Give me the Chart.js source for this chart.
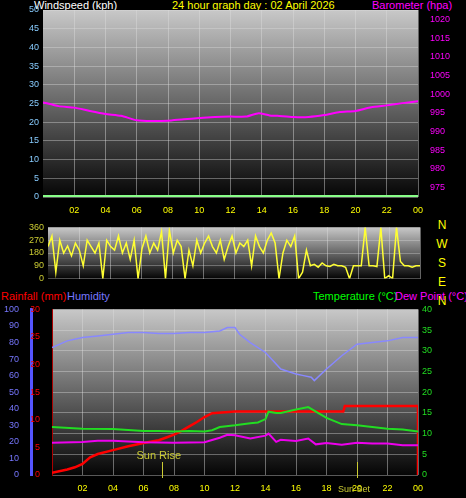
<!DOCTYPE html>
<html>
<head>
<meta charset="utf-8">
<script src="https://cdn.jsdelivr.net/npm/chart.js@4/dist/chart.umd.min.js"></script>
<style>
  body { margin: 0; background: #000; width: 466px; height: 498px; overflow: hidden; font-family: "Liberation Sans", Arial, sans-serif; }
  canvas { position: absolute; left: 0; }
  .lbl { position: absolute; font-size: 11px; white-space: nowrap; line-height: 11px; }
</style>
</head>
<body>
<div class="lbl" style="left:34px;top:0;color:#fff">Windspeed (kph)</div>
<div class="lbl" style="left:172px;top:0;color:#ff0">24 hour graph day : 02 April 2026</div>
<div class="lbl" style="left:372px;top:0;color:#f0f">Barometer (hpa)</div>
<div class="lbl" style="left:436px;top:216px;color:#ff0;font-size:12px;line-height:19px;text-align:center;width:12px">N<br>W<br>S<br>E<br>N</div>
<div class="lbl" style="left:1px;top:291px;color:#f00">Rainfall (mm)</div>
<div class="lbl" style="left:67px;top:291px;color:#77f">Humidity</div>
<div class="lbl" style="left:313px;top:291px;color:#0f0">Temperature (°C)</div>
<div class="lbl" style="left:395px;top:291px;color:#f0f">Dew Point (°C)</div>

<canvas id="c1" width="466" height="220" style="top:0"></canvas>
<canvas id="c2" width="466" height="70" style="top:218px"></canvas>
<canvas id="c3" width="466" height="198" style="top:300px"></canvas>

<script>
// hours of day for each reading
const baroHours = [0,1,2,3,4,5,6,7,8,9,10,11,12,13,13.8,14.5,15,16,17,18,19,20,21,22,23,24];
const baro = [997.8,996.8,996.4,995.5,994.7,994.2,993,992.8,992.9,993.3,993.6,993.9,994,994,994.9,994.3,994.2,993.9,993.9,994.4,995.2,995.5,996.5,997,997.6,998.1];

const windDirHours = [];
const windDir = [225,300,45,270,180,230,160,250,200,90,270,225,180,250,0,270,225,200,300,180,250,135,270,0,210,300,180,250,200,330,0,340,180,270,225,0,200,90,270,180,250,300,225,180,270,135,225,300,180,250,225,270,90,300,225,180,270,320,250,0,180,270,225,300,0,45,200,90,100,80,110,90,85,100,90,90,80,0,90,90,90,360,90,90,85,360,0,20,0,360,120,90,90,80,90,90];
for (let i = 0; i < windDir.length; i++) windDirHours.push(i * 24 / (windDir.length - 1));

const humHours = [0,1,2,3,4,5,6,7,8,9,10,11,11.5,12,12.3,13,14,15,16,16.5,17,17.2,18,19,20,21,22,23,24];
const humidity = [77,81,83,84,85,86,86,85.5,85.5,86,86,87,89,89,85,80,74,64,61,60,59,57,64,72,79,80,81,83,83];

const tempHours = [0,2,4,6,7,8,9,10,10.5,11,12,13,13.5,14,14.2,14.7,15,16,16.8,18,19,20,22,23,24];
const temperature = [11.6,11.2,11.1,10.6,10.6,10.5,10.6,10.5,10.8,11.6,12,12.5,12.7,13.5,15.3,15,15,15.8,16.4,13.8,12.3,12,11.2,11,10.5];

const dewHours = [0,2,3,4,6,8,10,11,11.5,12,13,14,14.2,14.7,15,16,16.8,17.3,18,19,20,21,22,23,24];
const dewPoint = [7.8,8,8.3,8.3,7.9,7.8,7.9,9,9.7,9.6,8.8,9.5,10,8,8.5,8.2,8.8,7.4,7.7,7.3,7.8,7.6,7.6,7.2,7.2];

const rainHours = [0,1,1.5,2,2.5,3,4,5,6,7,7.5,8,8.5,9,9.5,10,10.5,12,14,16,18,19.1,19.2,24,24];
const rainfall = [0.4,1,1.4,2,3.2,3.8,4.5,5.2,5.8,6.3,6.8,7.3,8,8.8,9.6,10.5,11.2,11.5,11.5,11.5,11.5,11.5,12.5,12.5,0];

const hourTicks = [2,4,6,8,10,12,14,16,18,20,22,24];
const sunRise = 7.2, sunSet = 20;

function pts(xs, ys) { return ys.map((v, i) => ({x: xs[i], y: v})); }
function hourLabel(v) { const h = v % 24; return (h < 10 ? '0' : '') + h; }

const gradBg = {
  id: 'gradBg',
  beforeDraw(chart) {
    const a = chart.chartArea, ctx = chart.ctx;
    const g = ctx.createLinearGradient(0, a.top, 0, a.bottom);
    g.addColorStop(0, '#c8c8c8');
    g.addColorStop(1, '#050505');
    ctx.save();
    ctx.fillStyle = g;
    ctx.fillRect(a.left, a.top, a.right - a.left, a.bottom - a.top);
    ctx.restore();
  }
};

function xAxis(show) {
  return {
    type: 'linear', min: 0, max: 24,
    afterBuildTicks: ax => { ax.ticks = hourTicks.map(v => ({value: v})); },
    afterFit: ax => { ax.height = show ? 23 : 0; },
    grid: { color: 'rgba(220,220,220,0.45)', borderDash: [1, 2], drawTicks: false },
    border: { display: false },
    ticks: { display: show, color: '#ff0', font: { size: 9 }, padding: 8, maxRotation: 0, autoSkip: false, callback: hourLabel }
  };
}

function sideAxis(pos, width, color, min, max, ticks, opts) {
  return Object.assign({
    type: 'linear', position: pos, min: min, max: max,
    afterBuildTicks: ax => { ax.ticks = ticks.map(v => ({value: v})); },
    afterFit: ax => { ax.width = width; },
    grid: { display: false },
    border: { display: false },
    ticks: { color: color, font: { size: 9 }, padding: 4, autoSkip: false, callback: v => String(v) }
  }, opts || {});
}

function range(a, b, s) { const r = []; for (let v = a; v <= b; v += s) r.push(v); return r; }

Chart.defaults.font.family = '"Liberation Sans", Arial, sans-serif';
Chart.defaults.animation = false;

// top: wind speed & barometer
new Chart(document.getElementById('c1'), {
  type: 'line',
  data: { datasets: [
    { data: pts(baroHours, baro), yAxisID: 'baro', borderColor: '#f0f', borderWidth: 2, pointRadius: 0, tension: 0.2 },
    { data: [{x: 0, y: 0.3}, {x: 24, y: 0.3}], yAxisID: 'wind', borderColor: '#8f8', borderWidth: 2, pointRadius: 0 }
  ]},
  plugins: [gradBg],
  options: {
    responsive: false, devicePixelRatio: 1,
    layout: { padding: { top: 10 } },
    plugins: { legend: { display: false }, tooltip: { enabled: false } },
    scales: {
      x: xAxis(true),
      wind: sideAxis('left', 43, '#8cf', 0, 50, range(0, 50, 5), { grid: { color: 'rgba(220,220,220,0.4)', borderDash: [1, 2], drawTicks: false } }),
      baro: sideAxis('right', 48, '#f0f', 972.5, 1022.5, range(975, 1020, 5))
    }
  }
});

// middle: wind direction
new Chart(document.getElementById('c2'), {
  type: 'line',
  data: { datasets: [
    { data: pts(windDirHours, windDir), borderColor: '#ff3', borderWidth: 1.5, pointRadius: 0 }
  ]},
  plugins: [gradBg],
  options: {
    responsive: false, devicePixelRatio: 1,
    layout: { padding: { top: 4, bottom: 6 } },
    plugins: { legend: { display: false }, tooltip: { enabled: false } },
    scales: {
      x: xAxis(false),
      y: sideAxis('left', 48, '#cc3', 0, 360, [0, 90, 180, 270, 360], { grid: { color: 'rgba(220,220,220,0.35)', drawTicks: false } }),
      r: sideAxis('right', 46, '#000', 0, 360, [], { ticks: { display: false } })
    }
  }
});

// bottom: rain, humidity, temperature, dew point
const sunMarks = {
  id: 'sunMarks',
  afterDatasetsDraw(chart) {
    const ctx = chart.ctx, x = chart.scales.x, a = chart.chartArea;
    ctx.save();
    ctx.strokeStyle = '#cc3';
    ctx.lineWidth = 1;
    ctx.fillStyle = '#cc3';
    ctx.font = '11px "Liberation Sans", Arial';
    [sunRise, sunSet].forEach(h => {
      const px = Math.round(x.getPixelForValue(h)) + 0.5;
      ctx.beginPath(); ctx.moveTo(px, a.bottom - 13); ctx.lineTo(px, a.bottom + 3); ctx.stroke();
    });
    ctx.textAlign = 'center';
    ctx.fillText('Sun Rise', x.getPixelForValue(sunRise) - 3, a.bottom - 16);
    ctx.font = '9px "Liberation Sans", Arial';
    ctx.fillText('Sun Set', x.getPixelForValue(sunSet) - 3, a.bottom + 17);
    ctx.restore();
  }
};

new Chart(document.getElementById('c3'), {
  type: 'line',
  data: { datasets: [
    { data: pts(humHours, humidity), yAxisID: 'hum', borderColor: '#88f', borderWidth: 1.5, pointRadius: 0 },
    { data: pts(tempHours, temperature), yAxisID: 'temp', borderColor: '#2d2', borderWidth: 2, pointRadius: 0 },
    { data: pts(dewHours, dewPoint), yAxisID: 'temp', borderColor: '#e0e', borderWidth: 2, pointRadius: 0 },
    { data: pts(rainHours, rainfall), yAxisID: 'rain', borderColor: '#f00', borderWidth: 2.5, pointRadius: 0 }
  ]},
  plugins: [gradBg, sunMarks],
  options: {
    responsive: false, devicePixelRatio: 1,
    layout: { padding: { top: 8 } },
    plugins: { legend: { display: false }, tooltip: { enabled: false } },
    scales: {
      x: xAxis(true),
      hum: sideAxis('left', 31, '#77f', 0, 100, range(0, 100, 10), { weight: 2, border: { display: true, color: '#55f', width: 3 } }),
      rain: sideAxis('left', 21, '#f00', 0, 30, range(0, 30, 5), { weight: 1, border: { display: true, color: '#a00', width: 1 },
        grid: { display: false } }),
      temp: sideAxis('right', 48, '#2d2', 0, 40, range(0, 40, 5), { grid: { color: 'rgba(220,220,220,0.4)', borderDash: [1, 2], drawTicks: false } })
    }
  }
});
</script>
</body>
</html>
